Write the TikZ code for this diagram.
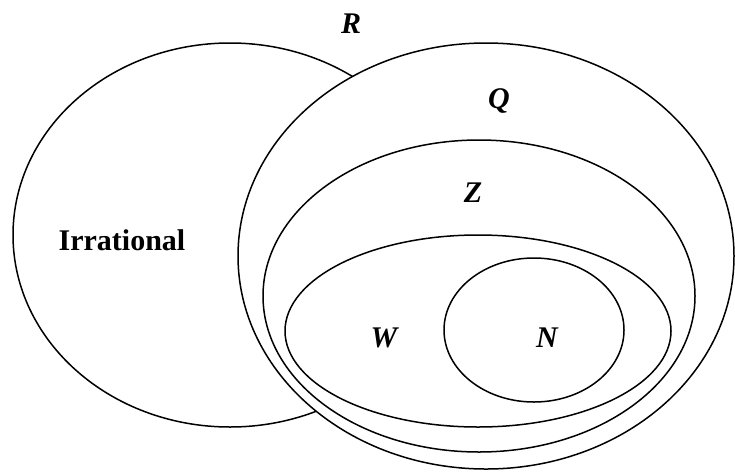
\documentclass[tikz,border=0pt]{standalone}
\usepackage{fontspec}
\setmainfont{Liberation Serif}
\usetikzlibrary{shapes.geometric}
\tikzset{
  numset/.style={draw, ellipse, line width=1.5pt, fill=white, inner sep=0pt},
  setname/.style={anchor=base, inner sep=0pt, font=\fontsize{30}{36}\selectfont\bfseries\itshape}
}
\begin{document}
\begin{tikzpicture}[x=1pt,y=-1pt]
\useasboundingbox (0,0) rectangle (735,472);
% outer sets
\node[numset, minimum width=434pt, minimum height=384pt] (irr) at (230,235) {};
\node[numset, minimum width=496pt, minimum height=426pt] (Q) at (486,256) {};
% nested sets
\node[numset, minimum width=432pt, minimum height=312pt] (Z) at (479,296) {};
\node[numset, minimum width=386pt, minimum height=192pt] (W) at (478,331) {};
\node[numset, minimum width=180pt, minimum height=144pt] (N) at (534,330) {};
% names
\node[setname] (Rlab) at (351,33) {R};
\node[setname] (Qlab) at (499,108) {Q};
\node[setname] (Zlab) at (473,202) {Z};
\node[setname] (Wlab) at (384,347) {W};
\node[setname] (Nlab) at (547,347) {N};
\node[setname, font=\fontsize{30}{36}\selectfont\bfseries] (irrlab) at (122,250) {Irrational};
\end{tikzpicture}
\end{document}
